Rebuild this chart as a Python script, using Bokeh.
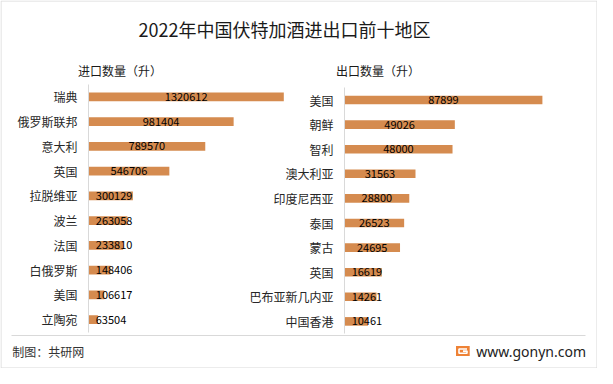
import numpy as np
from bokeh.plotting import figure
from bokeh.models import Range1d, LinearAxis, FixedTicker, Label, ColumnDataSource
from bokeh.core.properties import value
from bokeh.embed import file_html
from bokeh.resources import INLINE

# ---------------- data ----------------
TITLE = "2022年中国伏特加酒进出口前十地区"
IMPORT_HEADER = "进口数量（升）"
EXPORT_HEADER = "出口数量（升）"
import_regions = ["瑞典", "俄罗斯联邦", "意大利", "英国", "拉脱维亚",
                  "波兰", "法国", "白俄罗斯", "美国", "立陶宛"]
import_values = [1320612, 981404, 789570, 546706, 300129,
                 263058, 233810, 148406, 106617, 63504]
export_regions = ["美国", "朝鲜", "智利", "澳大利亚", "印度尼西亚",
                  "泰国", "蒙古", "英国", "巴布亚新几内亚", "中国香港"]
export_values = [87899, 49026, 48000, 31563, 28800,
                 26523, 24695, 16619, 14261, 10461]
SOURCE = "制图：共研网"
SITE = "www.gonyn.com"

# ---------------- layout (pixels) ----------------
W, H = 597, 368
FONT = "Noto Sans CJK SC"
BAR = "#D58B4F"
GRID = "#d9d9d9"
LABEL_C = "#262626"

LX0, LX1 = 88.0, 283.3      # left panel: pixel of 0 and of max value
RX0, RX1 = 343.9, 541.9     # right panel
LY0, LP = 96.3, 24.76       # left panel: first row centre, row pitch
RY0, RP = 99.5, 24.6        # right panel

kL = (LX1 - LX0) / max(import_values)
kR = (RX1 - RX0) / max(export_values)

p = figure(width=W, height=H, title=None, toolbar_location=None,
           output_backend="svg", x_axis_type=None, y_axis_type=None,
           x_range=Range1d(-LX0 / kL, (W - LX0) / kL),
           y_range=Range1d((H - LY0) / LP, -LY0 / LP),
           min_border=0, min_border_left=0, min_border_right=0,
           min_border_top=0, min_border_bottom=0)
p.extra_x_ranges = {"exp": Range1d(-RX0 / kR, (W - RX0) / kR),
                    "px": Range1d(0, W)}
p.extra_y_ranges = {"expy": Range1d((H - RY0) / RP, -RY0 / RP),
                    "px": Range1d(H, 0)}
p.outline_line_color = None
p.background_fill_color = "white"
p.border_fill_color = "white"
p.xgrid.visible = False
p.ygrid.visible = False

# ---------------- bars ----------------
def panel(regions, values, xr, yr, k):
    idx = list(range(len(regions)))
    labels = [str(v) for v in values]
    lx = [max(v / 2.0, (7 + len(s) * 3.1) / k) for v, s in zip(values, labels)]
    src = ColumnDataSource(dict(y=idx, v=values, lx=lx, t=labels))
    p.hbar(y="y", left=0, right="v", height=0.35, source=src,
           fill_color=BAR, line_color=None, x_range_name=xr, y_range_name=yr)
    p.text(x="lx", y="y", text="t", source=src, text_align="center",
           text_baseline="middle", text_font=value(FONT),
           text_font_size="11px", text_color="#000000",
           x_range_name=xr, y_range_name=yr)
    ax = LinearAxis(x_range_name=xr, y_range_name=yr, fixed_location=0,
                    ticker=FixedTicker(ticks=idx),
                    major_label_overrides={i: r for i, r in zip(idx, regions)},
                    bounds=(-0.5, len(regions) - 0.5))
    ax.axis_line_color = GRID
    ax.axis_line_width = 1
    ax.major_tick_line_color = None
    ax.minor_tick_line_color = None
    ax.major_tick_out = 0
    ax.major_tick_in = 0
    ax.major_label_standoff = 11
    ax.major_label_text_font = FONT
    ax.major_label_text_font_size = "12px"
    ax.major_label_text_color = LABEL_C
    p.add_layout(ax, "left")

panel(import_regions, import_values, "default", "default", kL)
panel(export_regions, export_values, "exp", "expy", kR)

# ---------------- frame, texts ----------------
p.quad(left=0.5, right=W - 0.5, top=0.5, bottom=H - 0.5, fill_color=None,
       line_color=GRID, line_width=1, x_range_name="px", y_range_name="px")
p.segment(x0=11, y0=335, x1=585, y1=335, line_color=GRID, line_width=1,
          x_range_name="px", y_range_name="px")

def lab(x, y, text, size, align="left", color="#1a1a1a", font=FONT):
    p.add_layout(Label(x=x, y=y, text=text, x_range_name="px", y_range_name="px",
                       text_align=align, text_baseline="middle",
                       text_font=font, text_font_size=size, text_color=color))

lab(284, 28.6, TITLE, "18px", align="center", color="#1a1a1a")
lab(77.4, 69.9, IMPORT_HEADER, "12px", color="#1a1a1a")
lab(335.4, 69.9, EXPORT_HEADER, "12px", color="#1a1a1a")
lab(11.8, 350.6, SOURCE, "12px", color="#333333")
lab(585.5, 350.6, SITE, "14px", align="right", color="#222222", font="Noto Sans")

# small logo
p.quad(left=455.5, right=469.2, top=345.5, bottom=355.5, fill_color="#EE8236",
       line_color=None, x_range_name="px", y_range_name="px")
p.line(x=[466.5, 458.5, 458.5, 466.5, 466.5, 462.5],
       y=[348.5, 348.5, 352.8, 352.8, 350.6, 350.6],
       line_color="white", line_width=1.6, x_range_name="px", y_range_name="px")

open("out.html", "w").write(file_html(p, INLINE))
